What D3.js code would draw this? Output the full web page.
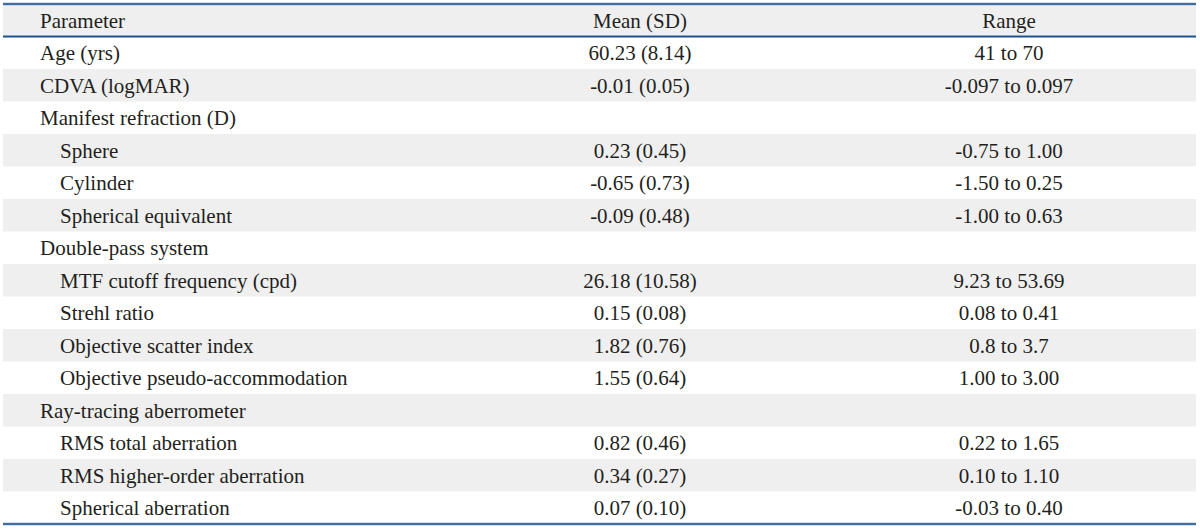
<!DOCTYPE html>
<html>
<head>
<meta charset="utf-8">
<script src="https://cdn.jsdelivr.net/npm/d3@7"></script>
<style>
  body { margin: 0; background: #fff; }
</style>
</head>
<body>
<svg id="tbl" width="1200" height="529"></svg>
<script>
// table content
var headers = ['Parameter', 'Mean (SD)', 'Range'];
var params = ['Age (yrs)', 'CDVA (logMAR)', 'Manifest refraction (D)', 'Sphere', 'Cylinder',
  'Spherical equivalent', 'Double-pass system', 'MTF cutoff frequency (cpd)', 'Strehl ratio',
  'Objective scatter index', 'Objective pseudo-accommodation', 'Ray-tracing aberrometer',
  'RMS total aberration', 'RMS higher-order aberration', 'Spherical aberration'];
var indent = [0, 0, 0, 1, 1, 1, 0, 1, 1, 1, 1, 0, 1, 1, 1];
var means = ['60.23 (8.14)', '-0.01 (0.05)', '', '0.23 (0.45)', '-0.65 (0.73)', '-0.09 (0.48)', '',
  '26.18 (10.58)', '0.15 (0.08)', '1.82 (0.76)', '1.55 (0.64)', '', '0.82 (0.46)', '0.34 (0.27)', '0.07 (0.10)'];
var ranges = ['41 to 70', '-0.097 to 0.097', '', '-0.75 to 1.00', '-1.50 to 0.25', '-1.00 to 0.63', '',
  '9.23 to 53.69', '0.08 to 0.41', '0.8 to 3.7', '1.00 to 3.00', '', '0.22 to 1.65', '0.10 to 1.10', '-0.03 to 0.40'];

var svg = d3.select('#tbl');
var tblLeft = 3, tblRight = 1196, tblTop = 4, tblBottom = 524;

var rows = d3.range(params.length + 1);
var y = d3.scaleBand().domain(rows).range([tblTop, tblBottom]);
var colX = [40, 640, 1009];

var styleText = function(sel){
  sel.style('font-family', '"Liberation Serif", "Times New Roman", serif')
     .style('font-size', '21px')
     .style('fill', '#231f20');
};

// striped background: header and every second row grey
svg.selectAll('rect.stripe')
  .data(rows.filter(function(d){ return d % 2 === 0; }))
  .enter()
  .append('rect')
  .attr('class', 'stripe')
  .attr('x', tblLeft)
  .attr('width', tblRight - tblLeft)
  .attr('y', function(d){ return y(d); })
  .attr('height', y.bandwidth())
  .attr('fill', '#efefef');

// header
svg.selectAll('text.head')
  .data(headers)
  .enter()
  .append('text')
  .attr('class', 'head')
  .attr('x', function(d, i){ return colX[i]; })
  .attr('y', y(0) + y.bandwidth() / 2)
  .attr('dy', '0.35em')
  .attr('text-anchor', function(d, i){ return i === 0 ? 'start' : 'middle'; })
  .call(styleText)
  .text(function(d){ return d; });

var body = svg.selectAll('g.row')
  .data(params)
  .enter()
  .append('g')
  .attr('class', 'row')
  .attr('transform', function(d, i){ return 'translate(0,' + (y(i + 1) + y.bandwidth() / 2) + ')'; });

body.append('text')
  .attr('x', function(d, i){ return colX[0] + indent[i] * 20; })
  .attr('dy', '0.35em')
  .call(styleText)
  .text(function(d){ return d; });

body.append('text')
  .attr('x', colX[1])
  .attr('dy', '0.35em')
  .attr('text-anchor', 'middle')
  .call(styleText)
  .text(function(d, i){ return means[i]; });

body.append('text')
  .attr('x', colX[2])
  .attr('dy', '0.35em')
  .attr('text-anchor', 'middle')
  .call(styleText)
  .text(function(d, i){ return ranges[i]; });

// rules
[tblTop, y(1), tblBottom].forEach(function(yy){
  svg.append('line')
    .attr('x1', tblLeft).attr('x2', tblRight)
    .attr('y1', yy).attr('y2', yy)
    .attr('stroke', '#aac4de').attr('stroke-width', 3);
  svg.append('line')
    .attr('x1', tblLeft).attr('x2', tblRight)
    .attr('y1', yy).attr('y2', yy)
    .attr('stroke', '#1f4f85').attr('stroke-width', 1.5);
});
</script>
</body>
</html>
